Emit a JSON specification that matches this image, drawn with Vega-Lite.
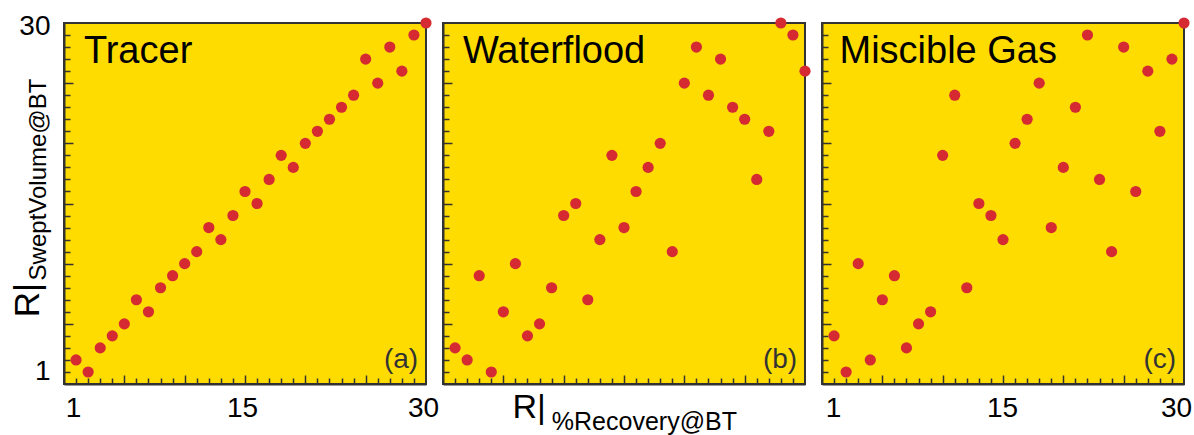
{
  "$schema": "https://vega.github.io/schema/vega-lite/v6.json",
  "padding": {"left": 9, "top": 11, "right": 0, "bottom": 0},
  "background": "white",
  "spacing": 17,
  "bounds": "flush",
  "config": {
    "font": "Liberation Sans",
    "view": {"fill": "#FFDC00", "stroke": "#333333", "strokeWidth": 2},
    "axis": {
      "grid": false,
      "zindex": 1,
      "domainColor": "#333333",
      "domainWidth": 2,
      "tickColor": "#333333",
      "tickWidth": 1.5,
      "tickCount": 30,
      "labelFont": "Liberation Sans",
      "labelFontSize": 28,
      "labelColor": "#000000",
      "labelOverlap": false,
      "labelFlush": false
    }
  },
  "datasets": {
    "ranks": [
      {"process": "Tracer", "recovery_rank": 1, "swept_rank": 2},
      {"process": "Tracer", "recovery_rank": 2, "swept_rank": 1},
      {"process": "Tracer", "recovery_rank": 3, "swept_rank": 3},
      {"process": "Tracer", "recovery_rank": 4, "swept_rank": 4},
      {"process": "Tracer", "recovery_rank": 5, "swept_rank": 5},
      {"process": "Tracer", "recovery_rank": 6, "swept_rank": 7},
      {"process": "Tracer", "recovery_rank": 7, "swept_rank": 6},
      {"process": "Tracer", "recovery_rank": 8, "swept_rank": 8},
      {"process": "Tracer", "recovery_rank": 9, "swept_rank": 9},
      {"process": "Tracer", "recovery_rank": 10, "swept_rank": 10},
      {"process": "Tracer", "recovery_rank": 11, "swept_rank": 11},
      {"process": "Tracer", "recovery_rank": 12, "swept_rank": 13},
      {"process": "Tracer", "recovery_rank": 13, "swept_rank": 12},
      {"process": "Tracer", "recovery_rank": 14, "swept_rank": 14},
      {"process": "Tracer", "recovery_rank": 15, "swept_rank": 16},
      {"process": "Tracer", "recovery_rank": 16, "swept_rank": 15},
      {"process": "Tracer", "recovery_rank": 17, "swept_rank": 17},
      {"process": "Tracer", "recovery_rank": 18, "swept_rank": 19},
      {"process": "Tracer", "recovery_rank": 19, "swept_rank": 18},
      {"process": "Tracer", "recovery_rank": 20, "swept_rank": 20},
      {"process": "Tracer", "recovery_rank": 21, "swept_rank": 21},
      {"process": "Tracer", "recovery_rank": 22, "swept_rank": 22},
      {"process": "Tracer", "recovery_rank": 23, "swept_rank": 23},
      {"process": "Tracer", "recovery_rank": 24, "swept_rank": 24},
      {"process": "Tracer", "recovery_rank": 25, "swept_rank": 27},
      {"process": "Tracer", "recovery_rank": 26, "swept_rank": 25},
      {"process": "Tracer", "recovery_rank": 27, "swept_rank": 28},
      {"process": "Tracer", "recovery_rank": 28, "swept_rank": 26},
      {"process": "Tracer", "recovery_rank": 29, "swept_rank": 29},
      {"process": "Tracer", "recovery_rank": 30, "swept_rank": 30},
      {"process": "Waterflood", "recovery_rank": 1, "swept_rank": 3},
      {"process": "Waterflood", "recovery_rank": 2, "swept_rank": 2},
      {"process": "Waterflood", "recovery_rank": 3, "swept_rank": 9},
      {"process": "Waterflood", "recovery_rank": 4, "swept_rank": 1},
      {"process": "Waterflood", "recovery_rank": 5, "swept_rank": 6},
      {"process": "Waterflood", "recovery_rank": 6, "swept_rank": 10},
      {"process": "Waterflood", "recovery_rank": 7, "swept_rank": 4},
      {"process": "Waterflood", "recovery_rank": 8, "swept_rank": 5},
      {"process": "Waterflood", "recovery_rank": 9, "swept_rank": 8},
      {"process": "Waterflood", "recovery_rank": 10, "swept_rank": 14},
      {"process": "Waterflood", "recovery_rank": 11, "swept_rank": 15},
      {"process": "Waterflood", "recovery_rank": 12, "swept_rank": 7},
      {"process": "Waterflood", "recovery_rank": 13, "swept_rank": 12},
      {"process": "Waterflood", "recovery_rank": 14, "swept_rank": 19},
      {"process": "Waterflood", "recovery_rank": 15, "swept_rank": 13},
      {"process": "Waterflood", "recovery_rank": 16, "swept_rank": 16},
      {"process": "Waterflood", "recovery_rank": 17, "swept_rank": 18},
      {"process": "Waterflood", "recovery_rank": 18, "swept_rank": 20},
      {"process": "Waterflood", "recovery_rank": 19, "swept_rank": 11},
      {"process": "Waterflood", "recovery_rank": 20, "swept_rank": 25},
      {"process": "Waterflood", "recovery_rank": 21, "swept_rank": 28},
      {"process": "Waterflood", "recovery_rank": 22, "swept_rank": 24},
      {"process": "Waterflood", "recovery_rank": 23, "swept_rank": 27},
      {"process": "Waterflood", "recovery_rank": 24, "swept_rank": 23},
      {"process": "Waterflood", "recovery_rank": 25, "swept_rank": 22},
      {"process": "Waterflood", "recovery_rank": 26, "swept_rank": 17},
      {"process": "Waterflood", "recovery_rank": 27, "swept_rank": 21},
      {"process": "Waterflood", "recovery_rank": 28, "swept_rank": 30},
      {"process": "Waterflood", "recovery_rank": 29, "swept_rank": 29},
      {"process": "Waterflood", "recovery_rank": 30, "swept_rank": 26},
      {"process": "Miscible Gas", "recovery_rank": 1, "swept_rank": 4},
      {"process": "Miscible Gas", "recovery_rank": 2, "swept_rank": 1},
      {"process": "Miscible Gas", "recovery_rank": 3, "swept_rank": 10},
      {"process": "Miscible Gas", "recovery_rank": 4, "swept_rank": 2},
      {"process": "Miscible Gas", "recovery_rank": 5, "swept_rank": 7},
      {"process": "Miscible Gas", "recovery_rank": 6, "swept_rank": 9},
      {"process": "Miscible Gas", "recovery_rank": 7, "swept_rank": 3},
      {"process": "Miscible Gas", "recovery_rank": 8, "swept_rank": 5},
      {"process": "Miscible Gas", "recovery_rank": 9, "swept_rank": 6},
      {"process": "Miscible Gas", "recovery_rank": 10, "swept_rank": 19},
      {"process": "Miscible Gas", "recovery_rank": 11, "swept_rank": 24},
      {"process": "Miscible Gas", "recovery_rank": 12, "swept_rank": 8},
      {"process": "Miscible Gas", "recovery_rank": 13, "swept_rank": 15},
      {"process": "Miscible Gas", "recovery_rank": 14, "swept_rank": 14},
      {"process": "Miscible Gas", "recovery_rank": 15, "swept_rank": 12},
      {"process": "Miscible Gas", "recovery_rank": 16, "swept_rank": 20},
      {"process": "Miscible Gas", "recovery_rank": 17, "swept_rank": 22},
      {"process": "Miscible Gas", "recovery_rank": 18, "swept_rank": 25},
      {"process": "Miscible Gas", "recovery_rank": 19, "swept_rank": 13},
      {"process": "Miscible Gas", "recovery_rank": 20, "swept_rank": 18},
      {"process": "Miscible Gas", "recovery_rank": 21, "swept_rank": 23},
      {"process": "Miscible Gas", "recovery_rank": 22, "swept_rank": 29},
      {"process": "Miscible Gas", "recovery_rank": 23, "swept_rank": 17},
      {"process": "Miscible Gas", "recovery_rank": 24, "swept_rank": 11},
      {"process": "Miscible Gas", "recovery_rank": 25, "swept_rank": 28},
      {"process": "Miscible Gas", "recovery_rank": 26, "swept_rank": 16},
      {"process": "Miscible Gas", "recovery_rank": 27, "swept_rank": 26},
      {"process": "Miscible Gas", "recovery_rank": 28, "swept_rank": 21},
      {"process": "Miscible Gas", "recovery_rank": 29, "swept_rank": 27},
      {"process": "Miscible Gas", "recovery_rank": 30, "swept_rank": 30}
    ],
    "panels": [
      {"process": "Tracer", "tag": "(a)"},
      {"process": "Waterflood", "tag": "(b)"},
      {"process": "Miscible Gas", "tag": "(c)"}
    ],
    "titles": [
      {"axis": "y", "head": "R|", "sub": "SweptVolume@BT"},
      {"axis": "x", "head": "R|", "sub": "%Recovery@BT"}
    ]
  },
  "hconcat": [
    {
      "width": 362,
      "height": 361,
      "resolve": {"scale": {"x": "shared", "y": "shared"}, "axis": {"x": "independent", "y": "independent"}},
      "layer": [
        {
          "data": {"name": "ranks"},
          "transform": [{"filter": "datum.process === 'Tracer'"}],
          "mark": {"type": "circle", "size": 125, "color": "#D62A32", "opacity": 1, "clip": false},
          "encoding": {
            "x": {
              "field": "recovery_rank", "type": "quantitative",
              "scale": {"domain": [0, 30], "nice": false},
              "axis": {
                "orient": "bottom", "title": null, "tickCount": 30, "ticks": false,
                "values": [1, 15, 30],
                "labelPadding": 10,
                "labelOffset": -3
              }
            },
            "y": {
              "field": "swept_rank", "type": "quantitative",
              "scale": {"domain": [0, 30], "nice": false},
              "axis": {
                "orient": "left", "title": null, "tickCount": 30, "ticks": false,
                "values": [1, 30],
                "labelPadding": 14,
                "labelOffset": {"condition": {"test": "datum.value === 30", "value": 3}, "value": 0}
              }
            }
          }
        },
        {
          "data": {"name": "panels"},
          "transform": [{"filter": "datum.process === 'Tracer'"}],
          "mark": {"type": "text", "align": "left", "baseline": "alphabetic", "fontSize": 38, "color": "#000000"},
          "encoding": {
            "x": {"datum": 1.65, "type": "quantitative", "axis": {"orient": "bottom", "title": null, "tickCount": 30, "values": [5, 10, 15, 20, 25], "tickSize": -9, "labels": false, "domain": false}},
            "y": {"datum": 26.65, "type": "quantitative", "axis": {"orient": "left", "title": null, "tickCount": 30, "values": [5, 10, 15, 20, 25], "tickSize": -9, "labels": false, "domain": false}},
            "text": {"field": "process"}
          }
        },
        {
          "data": {"name": "panels"},
          "transform": [{"filter": "datum.process === 'Tracer'"}],
          "mark": {"type": "text", "align": "right", "baseline": "alphabetic", "fontSize": 28, "color": "#333333"},
          "encoding": {
            "x": {"datum": 29.35, "type": "quantitative", "axis": {"orient": "bottom", "title": null, "tickCount": 30, "values": [1,2,3,4,6,7,8,9,11,12,13,14,16,17,18,19,21,22,23,24,26,27,28,29], "tickSize": -6, "labels": false, "domain": false}},
            "y": {"datum": 1.35, "type": "quantitative", "axis": {"orient": "left", "title": null, "tickCount": 30, "values": [1,2,3,4,6,7,8,9,11,12,13,14,16,17,18,19,21,22,23,24,26,27,28,29], "tickSize": -6, "labels": false, "domain": false}},
            "text": {"field": "tag"}
          }
        },
        {
          "data": {"name": "titles"},
          "transform": [{"filter": "datum.axis === 'y'"}],
          "mark": {"type": "text", "align": "left", "baseline": "alphabetic", "fontSize": 35, "angle": 270, "color": "#000000"},
          "encoding": {
            "x": {"datum": -2.09, "type": "quantitative", "axis": null},
            "y": {"datum": 5.54, "type": "quantitative", "axis": null},
            "text": {"field": "head"}
          }
        },
        {
          "data": {"name": "titles"},
          "transform": [{"filter": "datum.axis === 'y'"}],
          "mark": {"type": "text", "align": "left", "baseline": "alphabetic", "fontSize": 24, "angle": 270, "color": "#000000"},
          "encoding": {
            "x": {"datum": -1.51, "type": "quantitative", "axis": null},
            "y": {"datum": 8.61, "type": "quantitative", "axis": null},
            "text": {"field": "sub"}
          }
        }
      ]
    },
    {
      "width": 362,
      "height": 361,
      "resolve": {"scale": {"x": "shared", "y": "shared"}, "axis": {"x": "independent", "y": "independent"}},
      "layer": [
        {
          "data": {"name": "ranks"},
          "transform": [{"filter": "datum.process === 'Waterflood'"}],
          "mark": {"type": "circle", "size": 125, "color": "#D62A32", "opacity": 1, "clip": false},
          "encoding": {
            "x": {
              "field": "recovery_rank", "type": "quantitative",
              "scale": {"domain": [0, 30], "nice": false},
              "axis": {"orient": "bottom", "title": null, "tickCount": 30, "values": [1, 30], "ticks": false, "labels": false}
            },
            "y": {
              "field": "swept_rank", "type": "quantitative",
              "scale": {"domain": [0, 30], "nice": false},
              "axis": {"orient": "left", "title": null, "tickCount": 30, "values": [1, 30], "ticks": false, "labels": false}
            }
          }
        },
        {
          "data": {"name": "panels"},
          "transform": [{"filter": "datum.process === 'Waterflood'"}],
          "mark": {"type": "text", "align": "left", "baseline": "alphabetic", "fontSize": 38, "color": "#000000"},
          "encoding": {
            "x": {"datum": 1.65, "type": "quantitative", "axis": {"orient": "bottom", "title": null, "tickCount": 30, "values": [5, 10, 15, 20, 25], "tickSize": -9, "labels": false, "domain": false}},
            "y": {"datum": 26.65, "type": "quantitative", "axis": {"orient": "left", "title": null, "tickCount": 30, "values": [5, 10, 15, 20, 25], "tickSize": -9, "labels": false, "domain": false}},
            "text": {"field": "process"}
          }
        },
        {
          "data": {"name": "panels"},
          "transform": [{"filter": "datum.process === 'Waterflood'"}],
          "mark": {"type": "text", "align": "right", "baseline": "alphabetic", "fontSize": 28, "color": "#333333"},
          "encoding": {
            "x": {"datum": 29.35, "type": "quantitative", "axis": {"orient": "bottom", "title": null, "tickCount": 30, "values": [1,2,3,4,6,7,8,9,11,12,13,14,16,17,18,19,21,22,23,24,26,27,28,29], "tickSize": -6, "labels": false, "domain": false}},
            "y": {"datum": 1.35, "type": "quantitative", "axis": {"orient": "left", "title": null, "tickCount": 30, "values": [1,2,3,4,6,7,8,9,11,12,13,14,16,17,18,19,21,22,23,24,26,27,28,29], "tickSize": -6, "labels": false, "domain": false}},
            "text": {"field": "tag"}
          }
        },
        {
          "data": {"name": "titles"},
          "transform": [{"filter": "datum.axis === 'x'"}],
          "mark": {"type": "text", "align": "left", "baseline": "alphabetic", "fontSize": 34, "color": "#000000"},
          "encoding": {
            "x": {"datum": 5.75, "type": "quantitative", "axis": null},
            "y": {"datum": -2.85, "type": "quantitative", "axis": null},
            "text": {"field": "head"}
          }
        },
        {
          "data": {"name": "titles"},
          "transform": [{"filter": "datum.axis === 'x'"}],
          "mark": {"type": "text", "align": "left", "baseline": "alphabetic", "fontSize": 25, "color": "#000000"},
          "encoding": {
            "x": {"datum": 9.02, "type": "quantitative", "axis": null},
            "y": {"datum": -3.85, "type": "quantitative", "axis": null},
            "text": {"field": "sub"}
          }
        }
      ]
    },
    {
      "width": 362,
      "height": 361,
      "resolve": {"scale": {"x": "shared", "y": "shared"}, "axis": {"x": "independent", "y": "independent"}},
      "layer": [
        {
          "data": {"name": "ranks"},
          "transform": [{"filter": "datum.process === 'Miscible Gas'"}],
          "mark": {"type": "circle", "size": 125, "color": "#D62A32", "opacity": 1, "clip": false},
          "encoding": {
            "x": {
              "field": "recovery_rank", "type": "quantitative",
              "scale": {"domain": [0, 30], "nice": false},
              "axis": {
                "orient": "bottom", "title": null, "tickCount": 30, "ticks": false,
                "values": [1, 15, 30],
                "labelPadding": 10,
                "labelOffset": {"condition": {"test": "datum.value === 30", "value": -8}, "value": -1}
              }
            },
            "y": {
              "field": "swept_rank", "type": "quantitative",
              "scale": {"domain": [0, 30], "nice": false},
              "axis": {"orient": "left", "title": null, "tickCount": 30, "values": [1, 30], "ticks": false, "labels": false}
            }
          }
        },
        {
          "data": {"name": "panels"},
          "transform": [{"filter": "datum.process === 'Miscible Gas'"}],
          "mark": {"type": "text", "align": "left", "baseline": "alphabetic", "fontSize": 38, "color": "#000000"},
          "encoding": {
            "x": {"datum": 1.45, "type": "quantitative", "axis": {"orient": "bottom", "title": null, "tickCount": 30, "values": [5, 10, 15, 20, 25], "tickSize": -9, "labels": false, "domain": false}},
            "y": {"datum": 26.65, "type": "quantitative", "axis": {"orient": "left", "title": null, "tickCount": 30, "values": [5, 10, 15, 20, 25], "tickSize": -9, "labels": false, "domain": false}},
            "text": {"field": "process"}
          }
        },
        {
          "data": {"name": "panels"},
          "transform": [{"filter": "datum.process === 'Miscible Gas'"}],
          "mark": {"type": "text", "align": "right", "baseline": "alphabetic", "fontSize": 28, "color": "#333333"},
          "encoding": {
            "x": {"datum": 29.35, "type": "quantitative", "axis": {"orient": "bottom", "title": null, "tickCount": 30, "values": [1,2,3,4,6,7,8,9,11,12,13,14,16,17,18,19,21,22,23,24,26,27,28,29], "tickSize": -6, "labels": false, "domain": false}},
            "y": {"datum": 1.35, "type": "quantitative", "axis": {"orient": "left", "title": null, "tickCount": 30, "values": [1,2,3,4,6,7,8,9,11,12,13,14,16,17,18,19,21,22,23,24,26,27,28,29], "tickSize": -6, "labels": false, "domain": false}},
            "text": {"field": "tag"}
          }
        }
      ]
    }
  ]
}
